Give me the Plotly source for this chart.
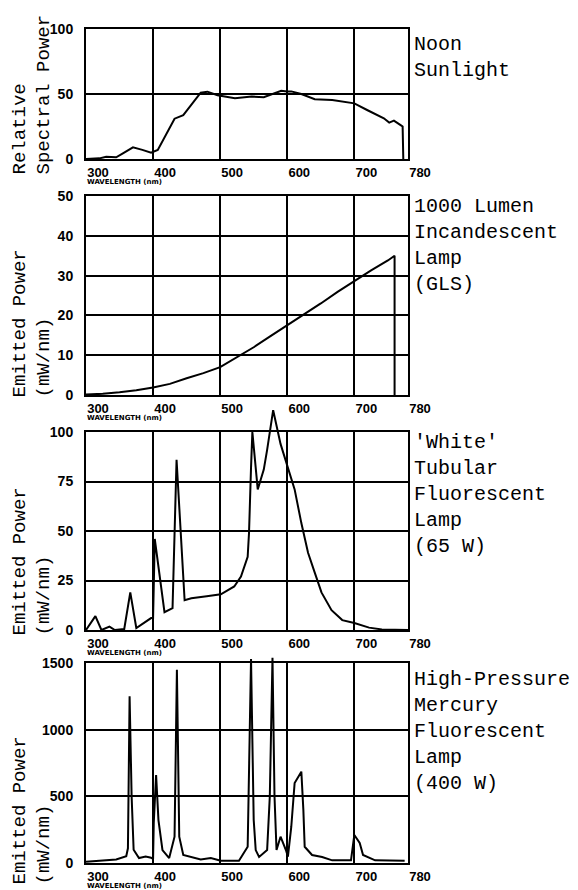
import plotly.graph_objects as go

W, H = 578, 890

# ---------------- data ----------------
x_tickvals = [300, 400, 500, 600, 700, 780]
x_ticktext = ["300", "400", "500", "600", "700", "780"]

sun_wl = [300, 320, 330, 345, 355, 370, 384, 397, 407, 420, 432, 445, 458, 471, 481,
          496, 522, 547, 565, 585, 591, 600, 606, 621, 641, 667, 700, 719, 744, 752,
          759, 769, 772, 773]
sun_val = [0, 0.5, 1.8, 1.3, 4.4, 9, 7, 4.9, 7, 19.7, 31, 33.8, 42.8, 51, 51.8,
           49, 46.7, 48, 47.5, 51, 52.5, 52, 52, 50, 46, 45.4, 42.8, 37.7, 31.3, 28,
           29.5, 26, 25, 0]

inc_wl = [300, 325, 350, 375, 400, 425, 450, 475, 500, 525, 550, 575, 600, 625, 650,
          675, 700, 725, 750, 760, 760]
inc_val = [0.1, 0.3, 0.7, 1.2, 1.9, 2.8, 4.2, 5.5, 7.0, 9.4, 12, 14.8, 17.5, 20.3, 23,
           25.9, 28.7, 31.3, 33.8, 35, 0]

fl_wl = [300, 314, 323, 335, 343, 357, 366, 375, 397, 400, 402.5, 417, 429, 435, 447,
         457, 480, 501, 521, 531, 541, 543, 546, 548, 556, 565, 570, 579, 590, 601,
         611, 621, 631, 641, 651, 666, 682, 700, 722, 741, 764, 780]
fl_val = [0, 7, 0, 1.7, 0, 0.5, 19, 1, 6, 6, 46, 9, 11, 86, 15,
          16, 17, 18, 22, 27, 37, 49, 82, 100, 71, 81, 91, 111, 94, 82,
          71, 54, 39, 29, 19, 10, 5, 3.5, 1.2, 0.3, 0, 0]

hg_wl = [300, 321, 345, 360, 362.5, 365, 368, 371, 379, 389, 397, 400, 401, 404.5, 408,
         414, 424, 432, 435.5, 439, 445, 471, 486, 501, 528, 541, 546, 550, 553, 558,
         570, 574, 578, 581, 584, 590, 594, 598, 601, 606, 611, 616, 621, 624, 626,
         637, 652, 667, 695, 700, 708, 713, 731, 775]
hg_val = [10, 17, 27, 50, 110, 1250, 500, 100, 37, 48, 40, 30, 300, 660, 322,
          97, 37, 197, 1450, 197, 60, 27, 37, 17, 17, 122, 1530, 322, 97, 45,
          97, 500, 1540, 500, 97, 197, 150, 97, 48, 272, 600, 647, 685, 400, 122,
          60, 45, 20, 20, 210, 150, 60, 20, 17]

panel_names = [
    "Noon<br>Sunlight",
    "1000 Lumen<br>Incandescent<br>Lamp<br>(GLS)",
    "'White'<br>Tubular<br>Fluorescent<br>Lamp<br>(65 W)",
    "High-Pressure<br>Mercury<br>Fluorescent<br>Lamp<br>(400 W)",
]
y_titles = [
    "Relative<br>Spectral Power",
    "Emitted Power<br>(mW/nm)",
    "Emitted Power<br>(mW/nm)",
    "Emitted Power<br>(mW/nm)",
]
x_title = "WAVELENGTH (nm)"
x_range = [300, 780]
y_ranges = [[0, 100], [0, 50], [0, 100], [0, 1500]]
y_dticks = [50, 10, 25, 500]
series = [(sun_wl, sun_val), (inc_wl, inc_val), (fl_wl, fl_val), (hg_wl, hg_val)]

# ---------------- layout geometry (pixels) ----------------
x_left, x_right = 86, 408
panels_px = [(29, 159), (196, 395), (432, 630), (663, 863)]
ytitle_bottom_px = [177, 400, 638, 887]
name_offsets = [3, -2, -2, 4]      # nudge of panel names relative to frame top
overhang_px = [0, 0, 26, 8]        # room for the curve to run above the frame

def px_x(p):
    return p / W

def px_y(p):
    return 1 - p / H

def sfx(k):
    return "" if k == 1 else str(k)

MONO = "Liberation Mono"
SANS = "Liberation Sans"
XTICKFONT = dict(family=SANS, size=13, color="black", weight="bold")
YTICKFONT = dict(family=SANS, size=14, color="black", weight="bold")

fig = go.Figure()
layout = dict(
    template="none",
    width=W, height=H, autosize=False,
    margin=dict(l=0, r=0, t=0, b=0, pad=0, autoexpand=False),
    paper_bgcolor="white", plot_bgcolor="rgba(0,0,0,0)",
    showlegend=False,
    annotations=[],
)

for i, ((wl, val), (top, bot)) in enumerate(zip(series, panels_px)):
    n = i + 1
    c = n + 4
    xa, ya = "x" + sfx(n), "y" + sfx(n)
    xc, yc = f"x{c}", f"y{c}"

    # framed panel with grid and ticks (empty trace registers the subplot)
    fig.add_trace(go.Scatter(x=[], y=[], mode="lines", xaxis=xa, yaxis=ya,
                             hoverinfo="skip"))
    layout["xaxis" + sfx(n)] = dict(
        domain=[px_x(x_left), px_x(x_right)], range=x_range,
        anchor=ya, tickvals=x_tickvals, ticktext=x_ticktext,
        showgrid=True, gridcolor="black", gridwidth=1.5,
        showline=True, mirror=True, linecolor="black", linewidth=2,
        zeroline=False, ticks="", automargin=False, fixedrange=True,
        tickfont=XTICKFONT,
        ticklabelshift=12, ticklabelstandoff=0,
    )
    layout["yaxis" + sfx(n)] = dict(
        domain=[px_y(bot), px_y(top)], range=y_ranges[i], dtick=y_dticks[i],
        anchor=xa,
        showgrid=True, gridcolor="black", gridwidth=1.5,
        showline=True, mirror=True, linecolor="black", linewidth=2,
        zeroline=False, ticks="", automargin=False, fixedrange=True,
        tickfont=YTICKFONT,
        ticklabelstandoff=8,
    )

    # the curve: same scales, but on hidden axes whose area reaches a little
    # above the frame so peaks can overshoot it as in the original drawing
    ext = overhang_px[i]
    r0, r1 = y_ranges[i]
    ext_top = r1 + (r1 - r0) * ext / (bot - top)
    fig.add_trace(go.Scatter(x=wl, y=val, mode="lines", xaxis=xc, yaxis=yc,
                             line=dict(color="black", width=2), hoverinfo="skip"))
    layout[f"xaxis{c}"] = dict(
        domain=[px_x(x_left), px_x(x_right)], range=x_range,
        anchor=yc, visible=False, fixedrange=True, showgrid=False,
    )
    layout[f"yaxis{c}"] = dict(
        domain=[px_y(bot), px_y(top - ext)], range=[r0, ext_top],
        anchor=xc, visible=False, fixedrange=True, showgrid=False,
    )

    # panel name on the right
    layout["annotations"].append(dict(
        text=panel_names[i], xref="paper", yref="paper",
        x=px_x(412), y=px_y(top - 1 + name_offsets[i]), xanchor="left", yanchor="top",
        align="left", showarrow=False,
        font=dict(family=MONO, size=20, color="black"),
    ))
    # rotated y title
    layout["annotations"].append(dict(
        text=y_titles[i], xref="paper", yref="paper",
        x=px_x(6), y=px_y(ytitle_bottom_px[i]), xanchor="left", yanchor="bottom",
        align="left", textangle=-90, showarrow=False,
        font=dict(family=MONO, size=19, color="black"),
    ))
    # small x title
    layout["annotations"].append(dict(
        text=x_title, xref="paper", yref="paper",
        x=px_x(86), y=px_y(bot + 18), xanchor="left", yanchor="top",
        showarrow=False, borderpad=0,
        font=dict(family="DejaVu Sans", size=7, color="black", weight="bold"),
    ))

fig.update_layout(**layout)
fig.write_html("out.html", config={"displayModeBar": False},
               post_script="document.body.style.margin='0';document.body.style.overflow='hidden';")
